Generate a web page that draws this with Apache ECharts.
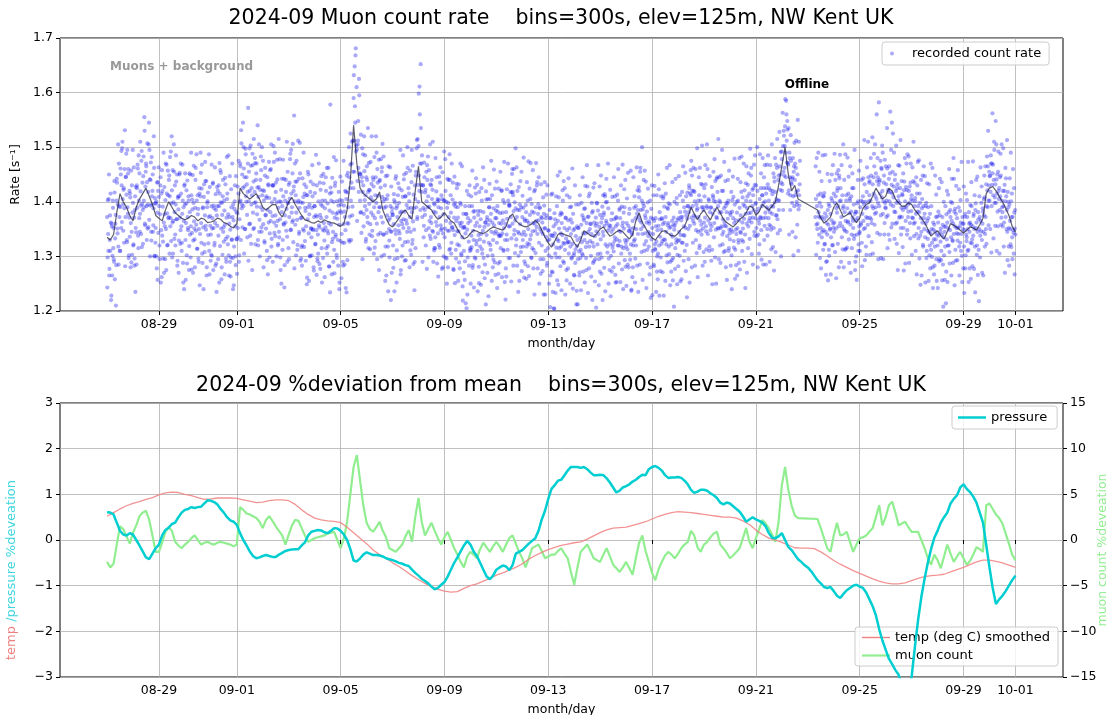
<!DOCTYPE html>
<html><head><meta charset="utf-8">
<script src="https://cdn.jsdelivr.net/npm/echarts@6/dist/echarts.min.js"></script>
<style>html,body{margin:0;padding:0;background:#fff}#c{width:1111px;height:715px}</style>
</head><body><div id="c"></div>
<script>
// ---------- data ----------
const seriesStartUTC = Date.UTC(2024, 7, 27, 0, 0);   // 2024-08-27 00:00
const scatterStepHours = 0.5;        // recorded count rate samples
const scatterBOffsetHours = 0.25;    // second sample set sits between the first
const lineStepHours = 3;             // smoothed rate, pressure, muon %dev
const tempStepHours = 6;             // temperature (smoothed)
const xTickDates = ['2024-08-29','2024-09-01','2024-09-05','2024-09-09','2024-09-13','2024-09-17','2024-09-21','2024-09-25','2024-09-29','2024-10-01'];
const rateTicks = [1.2, 1.3, 1.4, 1.5, 1.6, 1.7];
const pctTicksLeft = [-3, -2, -1, 0, 1, 2, 3];
const pctTicksRight = [-15, -10, -5, 0, 5, 10, 15];

// recorded count rate, milli-counts per second (one row per day, 30 min apart, from 00:00)
const rateScatterA_mHz = [
1372,1298,1341,1405,1265,1330,1310,1362,1228,1355,1301,1389,1352,1290,1417,1333,1376,1284,1442,1351,1395,1318,1470,1372,1390,1461,1352,1430,1498,1405,1347,1425,1388,1531,1372,1446,1413,1326,1390,1452,1297,1371,1336,1408,1361,1289,1430,1380,
1398,1322,1371,1296,1410,1352,1344,1430,1389,1461,1315,1402,1452,1378,1419,1341,1493,1396,1385,1447,1402,1555,1360,1428,1470,1392,1436,1351,1418,1505,1367,1441,1393,1472,1329,1410,1420,1345,1388,1462,1301,1397,1352,1401,1278,1380,1436,1343,
1409,1320,1377,1445,1348,1262,1338,1391,1296,1362,1427,1355,1403,1350,1468,1379,1321,1412,1372,1448,1410,1355,1492,1397,1421,1362,1305,1399,1455,1381,1340,1395,1437,1368,1283,1407,1386,1329,1450,1371,1348,1415,1310,1378,1402,1252,1365,1429,
1395,1330,1361,1421,1287,1372,1348,1402,1319,1381,1450,1355,1412,1343,1386,1270,1398,1364,1331,1389,1462,1358,1402,1314,1377,1296,1350,1415,1341,1490,1361,1424,1305,1388,1353,1409,1322,1375,1438,1349,1265,1390,1401,1339,1372,1310,1427,1356,
1340,1392,1301,1370,1435,1352,1388,1325,1361,1414,1287,1375,1356,1420,1338,1392,1471,1319,1399,1351,1280,1376,1410,1345,1327,1384,1358,1432,1296,1371,1405,1336,1377,1302,1360,1447,1349,1298,1390,1331,1372,1240,1366,1318,1401,1355,1284,1382,
1331,1379,1352,1415,1290,1368,1470,1402,1531,1388,1450,1425,1392,1461,1428,1350,1497,1410,1445,1376,1418,1572,1401,1359,1420,1338,1466,1395,1412,1488,1380,1437,1352,1418,1471,1399,1452,1391,1426,1330,1409,1505,1367,1422,1390,1458,1345,1412,
1421,1359,1402,1328,1448,1376,1351,1410,1293,1385,1432,1362,1407,1342,1381,1460,1318,1399,1374,1430,1502,1362,1405,1337,1418,1356,1399,1441,1320,1389,1345,1401,1368,1275,1422,1381,1392,1330,1410,1358,1243,1375,1362,1418,1387,1336,1455,1399,
1431,1372,1406,1488,1349,1415,1390,1452,1366,1420,1558,1401,1358,1412,1380,1437,1312,1399,1402,1341,1389,1452,1370,1296,1371,1320,1398,1409,1347,1432,1328,1383,1355,1412,1261,1368,1390,1342,1377,1301,1418,1352,1335,1389,1410,1348,1280,1372,
1392,1322,1375,1348,1430,1296,1340,1401,1357,1286,1376,1422,1370,1315,1402,1349,1451,1361,1329,1388,1353,1420,1372,1305,1397,1342,1361,1281,1415,1578,1358,1417,1326,1380,1345,1400,1312,1371,1435,1340,1378,1297,1369,1330,1393,1358,1252,1383,
1328,1380,1341,1402,1290,1359,1393,1325,1372,1348,1418,1234,1361,1417,1390,1330,1445,1373,1468,1402,1435,1510,1391,1455,1590,1512,1648,1545,1681,1503,1496,1438,1512,1462,1625,1452,1402,1451,1381,1437,1498,1418,1430,1378,1456,1392,1412,1332,
1385,1440,1362,1418,1471,1396,1421,1359,1408,1433,1337,1402,1375,1428,1390,1316,1412,1445,1398,1360,1460,1411,1381,1275,1438,1390,1426,1372,1455,1409,1362,1401,1340,1389,1430,1318,1391,1343,1375,1412,1236,1366,1329,1370,1392,1220,1345,1381,
1376,1320,1359,1403,1295,1348,1341,1388,1311,1372,1412,1357,1398,1342,1380,1267,1365,1421,1359,1409,1352,1441,1382,1326,1410,1366,1394,1345,1462,1388,1352,1401,1372,1311,1389,1436,1381,1330,1364,1413,1349,1290,1405,1448,1390,1513,1372,1431,
1502,1448,1611,1470,1652,1431,1418,1372,1430,1389,1356,1445,1376,1422,1348,1401,1467,1390,1410,1352,1391,1338,1432,1372,1361,1405,1422,1345,1382,1311,1395,1335,1380,1419,1356,1401,1342,1390,1321,1372,1435,1357,1388,1351,1405,1280,1377,1402,
1402,1351,1420,1365,1296,1389,1347,1398,1372,1312,1440,1361,1380,1325,1353,1404,1348,1275,1371,1339,1398,1312,1365,1425,1322,1371,1346,1289,1361,1398,1356,1305,1362,1335,1219,1378,1310,1353,1291,1342,1378,1205,1349,1298,1361,1327,1392,1310,
1365,1312,1338,1392,1279,1347,1330,1371,1298,1356,1415,1322,1362,1310,1383,1339,1251,1355,1318,1368,1341,1402,1305,1347,1381,1327,1354,1285,1362,1419,1339,1372,1301,1358,1325,1390,1366,1321,1378,1345,1412,1302,1330,1388,1357,1289,1370,1346,
1370,1325,1392,1341,1268,1361,1338,1379,1315,1360,1421,1342,1366,1312,1352,1398,1330,1221,1381,1340,1369,1312,1402,1355,1392,1355,1418,1372,1333,1451,1360,1412,1383,1340,1399,1366,1388,1331,1372,1420,1345,1301,1342,1385,1359,1317,1390,1273,
1372,1330,1389,1345,1291,1365,1339,1381,1318,1365,1402,1350,1361,1322,1376,1405,1339,1297,1382,1346,1361,1312,1419,1360,1347,1390,1365,1430,1341,1378,1366,1325,1388,1350,1268,1372,1320,1362,1341,1295,1378,1351,1352,1310,1336,1375,1288,1329,
1348,1302,1331,1370,1265,1339,1298,1338,1271,1322,1355,1204,1342,1305,1360,1316,1392,1331,1365,1328,1351,1298,1376,1342,1318,1361,1339,1402,1325,1288,1352,1312,1371,1333,1256,1348,1327,1366,1305,1352,1390,1318,1341,1296,1362,1323,1378,1302,
1306,1351,1288,1337,1212,1319,1330,1295,1352,1309,1271,1334,1312,1358,1326,1375,1302,1342,1366,1330,1388,1342,1297,1361,1325,1372,1345,1410,1318,1350,1359,1301,1341,1380,1325,1288,1318,1362,1337,1295,1371,1346,1360,1322,1384,1341,1295,1428,
1376,1331,1362,1298,1391,1345,1338,1380,1356,1410,1322,1365,1361,1318,1347,1388,1296,1352,1322,1356,1301,1345,1379,1316,1350,1309,1368,1335,1266,1355,1372,1331,1359,1402,1320,1347,1328,1370,1345,1305,1391,1356,1362,1315,1351,1390,1330,1281,
1318,1361,1330,1285,1356,1347,1346,1305,1351,1322,1239,1340,1365,1320,1352,1389,1331,1296,1392,1350,1378,1421,1341,1372,1408,1366,1455,1385,1362,1402,1341,1386,1355,1392,1322,1375,1370,1328,1362,1312,1399,1345,1318,1360,1342,1280,1371,1331,
1352,1310,1341,1285,1365,1322,1312,1355,1327,1272,1348,1305,1356,1320,1381,1336,1298,1349,1370,1328,1359,1410,1331,1362,1330,1372,1345,1302,1389,1357,1361,1318,1352,1395,1290,1340,1322,1365,1336,1297,1371,1349,1356,1315,1362,1331,1396,1303,
1328,1370,1345,1301,1381,1339,1366,1325,1372,1402,1339,1355,1338,1382,1352,1410,1321,1369,1392,1350,1381,1425,1356,1388,1412,1371,1448,1392,1365,1420,1360,1401,1372,1330,1395,1385,1388,1345,1372,1412,1320,1365,1402,1358,1390,1431,1351,1385,
1362,1410,1371,1432,1346,1392,1389,1341,1366,1402,1318,1381,1348,1390,1355,1312,1378,1408,1402,1361,1385,1438,1349,1372,1370,1418,1392,1351,1445,1380,1399,1352,1381,1420,1340,1368,1345,1388,1362,1310,1392,1355,1381,1337,1369,1402,1315,1349,
1331,1376,1349,1302,1382,1345,1370,1328,1361,1395,1312,1349,1341,1380,1352,1402,1325,1366,1389,1345,1375,1418,1330,1362,1351,1395,1369,1421,1340,1378,1402,1360,1388,1431,1355,1379,1415,1370,1401,1448,1362,1392,1371,1412,1385,1345,1431,1396,
1398,1352,1381,1420,1340,1366,1360,1405,1372,1425,1348,1392,1412,1370,1398,1445,1356,1401,1371,1415,1390,1350,1432,1386,1402,1358,1381,1421,1349,1392,1378,1420,1391,1352,1445,1399,1418,1375,1405,1462,1368,1402,1448,1402,1465,1422,1491,1435,
1478,1432,1502,1455,1521,1462,1538,1490,1585,1512,1548,1471,1468,1421,1490,1445,1412,1475,1432,1398,1445,1410,1455,1392,1440,1412,1462,1418,1395,1450,1421,1386,1412,1432,null,null,null,null,null,null,null,null,null,null,null,null,null,null,
null,null,null,null,null,null,null,null,null,null,null,null,null,null,1372,1405,1358,1392,1360,1412,1381,1340,1398,1371,1352,1391,1335,1372,1410,1348,1368,1322,1379,1345,1290,1361,1340,1385,1358,1312,1392,1349,1378,1335,1366,1402,1321,1360,
1415,1362,1398,1440,1351,1388,1380,1425,1392,1355,1448,1401,1361,1402,1372,1335,1412,1388,1392,1350,1381,1312,1365,1402,1345,1388,1362,1415,1331,1379,1402,1358,1382,1340,1425,1371,1352,1395,1338,1378,1290,1366,1381,1340,1370,1401,1322,1355,
1345,1390,1361,1402,1325,1378,1410,1365,1395,1432,1352,1388,1372,1418,1390,1358,1445,1401,1412,1371,1402,1448,1361,1392,1432,1388,1415,1465,1378,1410,1452,1405,1438,1480,1398,1431,1392,1440,1415,1375,1462,1408,1420,1378,1401,1448,1361,1398,
1388,1432,1402,1461,1375,1418,1442,1401,1452,1418,1495,1431,1415,1455,1392,1428,1382,1440,1381,1420,1398,1362,1432,1402,1410,1371,1398,1425,1352,1389,1372,1412,1385,1352,1421,1390,1401,1365,1389,1422,1348,1395,1382,1420,1398,1361,1435,1405,
1412,1371,1402,1438,1360,1392,1362,1401,1378,1341,1415,1382,1392,1352,1381,1415,1338,1370,1345,1388,1362,1321,1392,1370,1378,1335,1360,1398,1310,1365,1332,1370,1345,1302,1378,1342,1312,1350,1325,1280,1362,1331,1358,1318,1345,1372,1295,1340,
1320,1362,1338,1291,1375,1345,1351,1310,1340,1372,1285,1335,1302,1345,1318,1355,1272,1331,1362,1320,1351,1381,1308,1348,1372,1335,1365,1398,1328,1360,1341,1382,1355,1312,1378,1352,1370,1329,1352,1390,1318,1355,1325,1362,1341,1301,1372,1350,
1360,1318,1348,1378,1302,1340,1335,1372,1350,1312,1381,1345,1362,1325,1358,1392,1331,1355,1338,1378,1350,1318,1385,1352,1362,1320,1345,1381,1312,1350,1372,1338,1365,1398,1330,1360,1382,1345,1375,1408,1341,1372,1432,1392,1421,1465,1402,1430,
1402,1448,1418,1470,1392,1431,1452,1412,1440,1495,1408,1432,1398,1441,1415,1382,1455,1420,1425,1385,1410,1448,1371,1402,1381,1420,1392,1362,1431,1401,1372,1410,1385,1345,1418,1390,1352,1395,1365,1322,1401,1372,1335,1372,1348,1305,1380,1351,
1340
];

// recorded count rate, second set, milli-counts per second (30 min apart, from 00:15)
const rateScatterB_mHz = [
1243,1403,1310,1450,1277,1375,1415,1220,1360,1265,1402,1315,1295,1438,1258,1360,1210,1402,1435,1342,1505,1285,1392,1310,1310,1450,1493,1363,1510,1395,1422,1325,1460,1282,1445,1488,1330,1495,1378,1460,1302,1420,1415,1280,1457,1345,1303,1495,
1320,1463,1283,1385,1235,1427,1285,1425,1468,1338,1485,1370,1345,1510,1393,1475,1317,1435,1323,1483,1390,1530,1357,1455,1465,1330,1507,1395,1353,1545,1495,1300,1440,1345,1482,1395,1450,1357,1520,1300,1407,1325,1397,1300,1435,1257,1420,1463,
1392,1295,1430,1252,1415,1458,1420,1327,1490,1270,1377,1295,1470,1275,1415,1320,1457,1370,1440,1305,1482,1370,1328,1520,1298,1458,1365,1505,1332,1430,1320,1485,1368,1450,1292,1410,1270,1410,1453,1323,1470,1355,1325,1468,1288,1390,1240,1432,
1452,1257,1397,1302,1439,1352,1410,1275,1452,1340,1298,1490,1276,1404,1449,1329,1466,1351,1280,1440,1347,1487,1314,1412,1387,1290,1425,1247,1410,1453,1325,1468,1288,1390,1240,1432,1308,1473,1356,1438,1280,1398,1417,1324,1487,1267,1374,1292,
1303,1468,1351,1433,1275,1393,1320,1463,1283,1385,1235,1427,1392,1295,1430,1252,1415,1458,1453,1258,1398,1303,1440,1353,1402,1267,1444,1332,1290,1482,1415,1322,1485,1265,1372,1290,1263,1423,1330,1470,1297,1395,1247,1387,1430,1300,1447,1332,
1268,1428,1335,1475,1302,1400,1465,1330,1507,1395,1353,1545,1500,1305,1445,1350,1487,1400,1432,1335,1470,1292,1455,1498,1360,1503,1323,1425,1275,1467,1350,1515,1398,1480,1322,1440,1470,1377,1540,1320,1427,1345,1300,1440,1483,1353,1500,1385,
1475,1280,1420,1325,1462,1375,1407,1310,1445,1267,1430,1473,1298,1458,1365,1505,1332,1430,1290,1430,1473,1343,1490,1375,1435,1300,1477,1365,1323,1515,1335,1478,1298,1400,1250,1442,1312,1477,1360,1442,1284,1402,1440,1347,1510,1290,1397,1315,
1295,1435,1478,1348,1495,1380,1363,1506,1326,1428,1278,1470,1437,1302,1475,1367,1321,1512,1442,1345,1508,1292,1399,1317,1283,1443,1350,1490,1317,1415,1389,1292,1427,1249,1412,1455,1450,1255,1395,1300,1437,1350,1302,1467,1350,1432,1274,1392,
1416,1323,1486,1266,1373,1291,1305,1470,1353,1435,1277,1395,1447,1252,1392,1297,1434,1347,1262,1402,1445,1315,1462,1347,1319,1462,1282,1384,1234,1426,1402,1267,1444,1332,1290,1482,1269,1429,1336,1476,1303,1401,1380,1283,1418,1240,1403,1446,
1395,1260,1437,1325,1283,1475,1382,1285,1420,1242,1405,1448,1293,1453,1360,1500,1327,1425,1525,1330,1470,1375,1512,1425,1632,1455,1575,1668,1492,1610,1365,1505,1548,1418,1595,1450,1380,1523,1343,1445,1295,1487,1355,1520,1403,1485,1327,1445,
1465,1372,1535,1315,1422,1340,1313,1473,1380,1520,1347,1445,1440,1305,1482,1370,1328,1520,1490,1295,1435,1340,1477,1390,1440,1343,1478,1300,1463,1506,1340,1483,1303,1405,1255,1447,1265,1405,1448,1318,1465,1350,1298,1463,1346,1428,1270,1388,
1376,1279,1414,1236,1399,1442,1447,1252,1392,1297,1434,1347,1425,1332,1495,1275,1382,1300,1320,1485,1368,1450,1292,1410,1293,1453,1360,1500,1327,1425,1415,1280,1457,1345,1303,1495,1323,1466,1286,1388,1238,1430,1315,1455,1498,1368,1515,1400,
1598,1420,1560,1385,1535,1470,1485,1290,1430,1335,1472,1385,1417,1320,1455,1277,1440,1483,1298,1458,1365,1505,1332,1430,1440,1347,1510,1290,1397,1315,1315,1480,1363,1445,1287,1405,1263,1403,1446,1316,1463,1348,1412,1277,1454,1342,1300,1492,
1335,1478,1298,1400,1250,1442,1280,1440,1347,1487,1314,1412,1305,1470,1353,1435,1277,1395,1446,1251,1391,1296,1433,1346,1390,1255,1432,1320,1278,1470,1395,1302,1465,1245,1352,1270,1354,1257,1392,1214,1377,1420,1230,1370,1413,1283,1430,1315,
1250,1410,1317,1457,1284,1382,1243,1383,1426,1296,1443,1328,1431,1236,1376,1281,1418,1331,1383,1248,1425,1313,1271,1463,1297,1440,1260,1362,1212,1404,1367,1270,1405,1227,1390,1433,1405,1312,1475,1255,1362,1280,1294,1459,1342,1424,1266,1384,
1437,1242,1382,1287,1424,1337,1290,1455,1338,1420,1262,1380,1403,1310,1473,1253,1360,1278,1263,1423,1330,1470,1297,1395,1394,1297,1432,1254,1417,1460,1418,1283,1460,1348,1306,1498,1320,1463,1283,1385,1235,1427,1255,1395,1438,1308,1455,1340,
1411,1318,1481,1261,1368,1286,1394,1259,1436,1324,1282,1474,1264,1424,1331,1471,1298,1396,1315,1458,1278,1380,1230,1422,1306,1471,1354,1436,1278,1396,1445,1250,1390,1295,1432,1345,1370,1273,1408,1230,1393,1436,1230,1370,1413,1283,1430,1315,
1347,1250,1385,1207,1370,1413,1272,1415,1235,1337,1205,1379,1368,1233,1410,1298,1256,1448,1248,1408,1315,1455,1282,1380,1238,1378,1421,1291,1438,1323,1425,1230,1370,1275,1412,1325,1278,1443,1326,1408,1250,1368,1391,1298,1461,1241,1348,1266,
1265,1430,1313,1395,1237,1355,1212,1352,1395,1265,1412,1297,1238,1398,1305,1445,1272,1370,1387,1252,1429,1317,1275,1467,1428,1233,1373,1278,1415,1328,1360,1263,1398,1220,1383,1426,1291,1434,1254,1356,1206,1398,1397,1304,1467,1247,1354,1272,
1305,1448,1268,1370,1220,1412,1376,1279,1414,1236,1399,1442,1400,1307,1470,1250,1357,1275,1422,1227,1367,1272,1409,1322,1280,1445,1328,1410,1252,1370,1253,1413,1320,1460,1287,1385,1388,1253,1430,1318,1276,1468,1240,1380,1423,1293,1440,1325,
1246,1406,1313,1453,1280,1378,1387,1294,1457,1237,1344,1262,1280,1445,1328,1410,1252,1370,1320,1463,1283,1385,1235,1427,1420,1285,1462,1350,1308,1500,1257,1397,1440,1310,1457,1342,1437,1242,1382,1287,1424,1337,1364,1267,1402,1224,1387,1430,
1229,1369,1412,1282,1429,1314,1370,1235,1412,1300,1258,1450,1423,1228,1368,1273,1410,1323,1368,1271,1406,1228,1391,1434,1255,1415,1322,1462,1289,1387,1397,1304,1467,1247,1354,1272,1293,1436,1256,1358,1208,1400,1277,1442,1325,1407,1249,1367,
1282,1447,1330,1412,1254,1372,1258,1418,1325,1465,1292,1390,1310,1453,1273,1375,1225,1417,1392,1295,1430,1252,1415,1458,1475,1280,1420,1325,1462,1375,1418,1283,1460,1348,1306,1498,1262,1402,1445,1315,1462,1347,1433,1340,1503,1283,1390,1308,
1425,1290,1467,1355,1313,1505,1460,1265,1405,1310,1447,1360,1389,1292,1427,1249,1412,1455,1335,1478,1298,1400,1250,1442,1445,1352,1515,1295,1402,1320,1288,1448,1355,1495,1322,1420,1308,1473,1356,1438,1280,1398,1257,1397,1440,1310,1457,1342,
1380,1283,1418,1240,1403,1446,1409,1316,1479,1259,1366,1284,1400,1265,1442,1330,1288,1480,1276,1436,1343,1483,1310,1408,1327,1470,1290,1392,1242,1434,1465,1270,1410,1315,1452,1365,1332,1497,1380,1462,1304,1422,1285,1425,1468,1338,1485,1370,
1430,1337,1500,1280,1387,1305,1322,1487,1370,1452,1294,1412,1480,1285,1425,1330,1467,1380,1285,1425,1468,1338,1485,1370,1425,1290,1467,1355,1313,1505,1414,1317,1452,1274,1437,1480,1308,1468,1375,1515,1342,1440,1385,1528,1348,1450,1300,1492,
1420,1563,1385,1530,1448,1502,1588,1445,1560,1472,1532,1415,1535,1340,1480,1385,1522,1435,1442,1345,1480,1302,1465,1508,1470,1335,1512,1400,1358,1550,1310,1510,1393,1475,null,null,null,null,null,null,null,null,null,null,null,null,null,null,
null,null,null,null,null,null,null,null,null,null,null,null,null,null,1465,1303,1480,1350,1325,1490,1373,1455,1297,1415,1278,1438,1345,1485,1312,1410,1416,1323,1486,1266,1373,1291,1451,1256,1396,1301,1438,1351,1267,1407,1450,1320,1467,1352,
1345,1488,1308,1410,1260,1452,1420,1323,1458,1280,1443,1486,1425,1290,1467,1355,1313,1505,1280,1440,1347,1487,1314,1412,1316,1481,1364,1446,1288,1406,1465,1270,1410,1315,1452,1365,1425,1332,1495,1275,1382,1300,1257,1397,1440,1310,1457,1342,
1310,1475,1358,1440,1282,1400,1443,1350,1513,1293,1400,1318,1303,1463,1370,1510,1337,1435,1438,1303,1480,1368,1326,1518,1305,1445,1488,1358,1505,1390,1380,1560,1343,1445,1295,1582,1437,1340,1475,1297,1460,1503,1490,1295,1435,1340,1477,1390,
1465,1372,1535,1315,1422,1340,1465,1330,1565,1395,1353,1545,1360,1525,1408,1490,1332,1450,1360,1503,1323,1425,1275,1467,1306,1466,1373,1513,1340,1438,1414,1317,1452,1274,1437,1480,1287,1427,1470,1340,1487,1372,1483,1288,1428,1333,1470,1383,
1303,1463,1370,1510,1337,1435,1407,1310,1445,1267,1430,1473,1333,1476,1296,1398,1248,1440,1265,1405,1448,1318,1465,1350,1447,1252,1392,1297,1434,1347,1390,1255,1432,1320,1278,1470,1392,1299,1462,1242,1349,1267,1283,1448,1331,1413,1255,1373,
1242,1382,1425,1295,1442,1327,1293,1436,1256,1358,1208,1400,1354,1257,1392,1214,1377,1420,1253,1413,1320,1460,1287,1385,1400,1265,1442,1330,1288,1480,1442,1247,1387,1292,1429,1342,1293,1458,1341,1423,1265,1383,1403,1310,1473,1253,1360,1278,
1428,1233,1373,1278,1415,1328,1403,1310,1473,1253,1360,1278,1394,1259,1436,1324,1282,1474,1374,1277,1412,1234,1397,1440,1303,1446,1266,1368,1218,1410,1298,1463,1346,1428,1270,1388,1265,1405,1448,1318,1465,1350,1323,1483,1390,1530,1357,1455,
1447,1350,1485,1307,1470,1562,1468,1333,1510,1398,1356,1548,1505,1310,1450,1355,1492,1405,1305,1445,1488,1358,1505,1390,1355,1498,1318,1420,1270,1462,1443,1350,1513,1293,1400,1318,1283,1443,1350,1490,1317,1415,1295,1460,1343,1425,1267,1385
];

// smoothed count rate, s^-1 (3 h apart; null = offline)
const rateSmoothed = [
1.335,1.33,1.34,1.38,1.415,1.40,1.39,1.375,
1.365,1.39,1.405,1.415,1.425,1.41,1.395,1.375,
1.37,1.365,1.385,1.40,1.39,1.38,1.375,1.37,
1.367,1.37,1.375,1.372,1.365,1.37,1.368,1.362,
1.363,1.365,1.37,1.368,1.362,1.36,1.355,1.352,
1.36,1.425,1.415,1.41,1.405,1.41,1.415,1.405,
1.39,1.385,1.39,1.395,1.395,1.38,1.372,1.385,
1.40,1.408,1.395,1.385,1.375,1.367,1.365,1.362,
1.361,1.365,1.362,1.367,1.364,1.362,1.361,1.358,
1.355,1.36,1.385,1.44,1.54,1.47,1.425,1.415,
1.41,1.405,1.40,1.405,1.418,1.385,1.37,1.358,
1.354,1.362,1.37,1.38,1.385,1.375,1.368,1.42,
1.465,1.40,1.395,1.39,1.385,1.375,1.368,1.372,
1.38,1.372,1.365,1.361,1.35,1.34,1.332,1.335,
1.342,1.348,1.346,1.343,1.342,1.345,1.35,1.354,
1.352,1.35,1.348,1.355,1.372,1.378,1.365,1.36,
1.356,1.354,1.356,1.36,1.366,1.36,1.348,1.335,
1.325,1.317,1.328,1.34,1.343,1.34,1.338,1.336,
1.325,1.317,1.33,1.347,1.343,1.338,1.336,1.342,
1.35,1.354,1.345,1.337,1.34,1.345,1.348,1.345,
1.338,1.332,1.34,1.365,1.38,1.362,1.352,1.342,
1.334,1.33,1.338,1.346,1.347,1.342,1.338,1.337,
1.342,1.35,1.355,1.37,1.39,1.378,1.367,1.378,
1.385,1.375,1.367,1.38,1.39,1.38,1.368,1.362,
1.358,1.354,1.36,1.368,1.372,1.38,1.392,1.39,
1.375,1.382,1.395,1.39,1.385,1.392,1.40,1.43,
1.465,1.50,1.45,1.42,1.43,1.405,null,null,
null,null,null,1.385,1.37,1.361,1.366,1.372,
1.39,1.398,1.385,1.372,1.376,1.38,1.37,1.362,
1.37,1.388,1.395,1.398,1.41,1.425,1.415,1.405,
1.41,1.425,1.42,1.405,1.398,1.392,1.392,1.398,
1.395,1.385,1.378,1.37,1.362,1.35,1.337,1.343,
1.347,1.338,1.332,1.345,1.36,1.357,1.353,1.348,
1.343,1.348,1.354,1.352,1.348,1.358,1.37,1.415,
1.425,1.428,1.42,1.41,1.40,1.388,1.375,1.355,
1.345
];

// pressure % deviation from mean (3 h apart)
const pressureDev = [
0.61,0.60,0.56,0.38,0.2,0.12,0.1,0.15,
0.12,0.0,-0.12,-0.25,-0.38,-0.42,-0.3,-0.18,
-0.1,0.1,0.22,0.27,0.35,0.38,0.5,0.6,
0.66,0.68,0.72,0.7,0.72,0.73,0.8,0.87,
0.86,0.83,0.78,0.68,0.6,0.5,0.43,0.4,
0.33,0.15,0.0,-0.12,-0.25,-0.35,-0.4,-0.38,
-0.35,-0.33,-0.35,-0.37,-0.37,-0.32,-0.28,-0.24,
-0.22,-0.21,-0.2,-0.2,-0.12,-0.05,0.1,0.18,
0.2,0.22,0.21,0.17,0.15,0.2,0.26,0.25,
0.2,0.12,0.0,-0.2,-0.45,-0.47,-0.4,-0.32,
-0.27,-0.3,-0.33,-0.33,-0.34,-0.36,-0.4,-0.42,
-0.44,-0.47,-0.5,-0.52,-0.55,-0.57,-0.65,-0.72,
-0.78,-0.85,-0.9,-0.95,-1.02,-1.08,-1.05,-0.98,
-0.92,-0.8,-0.65,-0.5,-0.38,-0.25,-0.12,-0.02,
-0.1,-0.25,-0.35,-0.5,-0.65,-0.8,-0.86,-0.78,
-0.65,-0.6,-0.56,-0.58,-0.66,-0.55,-0.3,-0.26,
-0.22,-0.15,-0.08,-0.02,0.04,0.2,0.45,0.64,
0.9,1.12,1.2,1.3,1.32,1.42,1.52,1.6,
1.6,1.6,1.58,1.6,1.55,1.48,1.42,1.42,
1.43,1.42,1.35,1.26,1.15,1.04,1.08,1.15,
1.18,1.22,1.28,1.32,1.38,1.43,1.42,1.55,
1.6,1.62,1.58,1.52,1.42,1.36,1.37,1.37,
1.38,1.36,1.3,1.22,1.1,1.03,1.06,1.1,
1.1,1.08,1.02,0.98,0.92,0.82,0.78,0.82,
0.8,0.74,0.68,0.62,0.52,0.4,0.45,0.5,
0.45,0.42,0.38,0.3,0.15,0.05,0.04,0.08,
0.15,0.0,-0.15,-0.22,-0.32,-0.42,-0.48,-0.55,
-0.6,-0.68,-0.78,-0.88,-0.95,-1.03,-1.05,-1.03,
-1.12,-1.22,-1.27,-1.18,-1.1,-1.05,-1.0,-0.98,
-1.02,-1.05,-1.15,-1.3,-1.45,-1.65,-1.95,-2.2,
-2.4,-2.6,-2.72,-2.85,-2.95,-3.2,-3.45,-3.3,
-3.0,-2.35,-1.75,-1.25,-0.85,-0.5,-0.2,0.05,
0.2,0.38,0.5,0.6,0.8,0.9,0.98,1.15,
1.22,1.12,1.05,0.95,0.82,0.6,0.38,-0.1,
-0.6,-1.05,-1.4,-1.3,-1.22,-1.12,-1.0,-0.88,
-0.78
];

// muon count % deviation from mean (3 h apart; null = offline)
const muonDev = [
-2.4,-3.0,-2.6,-0.5,1.5,1.2,0.4,-0.4,
0.8,1.6,2.6,3.0,3.2,2.2,0.5,-1.3,
-1.3,-0.3,0.9,1.4,1.0,-0.2,-0.6,-0.9,
-0.5,-0.2,0.2,0.5,0.0,-0.5,-0.3,-0.2,
-0.4,-0.5,-0.3,-0.2,-0.3,-0.4,-0.5,-0.7,
-0.5,3.6,3.3,2.9,2.8,2.6,2.4,2.0,
1.3,2.2,2.6,2.1,1.5,1.0,0.5,-0.5,
0.6,1.6,2.2,2.1,1.3,0.5,-0.2,0.0,
0.2,0.3,0.4,0.5,0.7,0.8,0.9,0.0,
-0.9,0.2,2.0,5.0,8.0,9.3,6.5,3.8,
1.9,1.2,0.9,1.4,2.0,1.0,0.3,-0.9,
-1.1,-1.3,-0.9,-0.5,0.4,1.1,-0.2,2.5,
4.6,2.0,0.5,1.2,1.9,1.0,0.2,-0.5,
0.3,0.9,0.0,-0.9,-1.6,-2.4,-3.0,-1.8,
-1.3,-1.6,-2.0,-1.0,-0.3,-0.8,-1.3,-0.7,
-0.2,-0.7,-1.3,-0.5,0.2,0.5,-0.4,-1.3,
-2.0,-3.0,-2.0,-0.9,-0.7,-0.5,-1.2,-2.0,
-1.8,-1.6,-1.6,-1.2,-0.9,-1.5,-2.0,-3.5,
-4.9,-3.0,-1.3,-0.9,-0.5,-1.2,-2.0,-2.2,
-2.4,-1.6,-0.9,-1.8,-2.7,-3.1,-3.5,-3.0,
-2.4,-3.1,-3.8,-2.0,-0.3,0.5,-1.2,-2.4,
-3.6,-4.4,-3.2,-2.4,-1.7,-1.3,-1.6,-2.0,
-1.5,-0.9,-0.5,-0.2,1.0,0.5,-0.8,-1.3,
-0.5,-0.2,0.3,0.7,0.9,-0.5,-0.9,-1.4,
-2.0,-1.7,-1.3,-0.9,0.2,1.3,-0.2,-0.9,
0.2,1.2,2.2,1.8,1.3,0.6,-0.2,2.0,
6.0,8.0,5.5,3.8,2.7,2.4,null,null,
null,null,null,2.3,1.3,0.2,-0.9,-1.3,
0.5,1.9,0.5,0.6,0.9,-0.2,-1.3,-0.5,
0.2,0.3,0.5,0.9,1.3,2.5,3.8,1.6,
2.5,3.8,4.2,3.0,1.6,1.8,2.0,1.4,
0.9,0.9,0.9,0.0,-0.9,-2.0,-2.7,-1.6,
-2.2,-3.1,-1.8,-0.5,-1.5,-2.4,-1.8,-1.3,
-2.0,-2.7,-2.3,-1.6,-0.8,-1.0,-1.3,3.8,
4.0,3.4,2.8,2.4,1.8,0.7,-0.4,-1.6,
-2.2
];

// temperature deviation, deg C, smoothed (6 h apart)
const tempDev = [
2.6,3.0,3.4,3.75, 4.0,4.2,4.45,4.65, 4.95,5.15,5.25,5.2, 5.0,4.85,4.65,4.45,
4.5,4.6,4.6,4.6, 4.55,4.4,4.25,4.1, 4.15,4.3,4.4,4.4, 4.3,3.9,3.3,2.8,
2.4,2.2,2.1,2.05, 1.9,1.4,0.8,0.2, -0.4,-1.1,-1.6,-2.0, -2.5,-2.9,-3.4,-3.9,
-4.35,-4.75,-5.1,-5.4, -5.6,-5.7,-5.65,-5.3, -5.0,-4.8,-4.5,-4.2, -3.85,-3.6,-3.3,-3.0,
-2.6,-2.1,-1.7,-1.35, -1.05,-0.8,-0.6,-0.45, -0.3,-0.2,0.1,0.45, 0.8,1.1,1.3,1.35,
1.4,1.6,1.8,2.0, 2.3,2.6,2.8,3.0, 3.1,3.05,3.0,2.9, 2.8,2.7,2.6,2.5,
2.5,2.4,2.1,1.7, 1.1,0.6,0.2,0.0, -0.25,-0.55,-0.85,-0.9, -0.9,-0.95,-1.3,-1.75,
-2.25,-2.65,-3.0,-3.35, -3.65,-3.95,-4.25,-4.5, -4.7,-4.8,-4.8,-4.7, -4.45,-4.2,-4.0,-3.9,
-3.85,-3.75,-3.5,-3.25, -3.0,-2.7,-2.4,-2.2, -2.2,-2.35,-2.5,-2.75,
-3.0
];

// ---------- chart ----------
const FONT = 'DejaVu Sans';
const HOUR = 3600e3;
const xMin = Date.UTC(2024, 7, 25, 4, 30);
const xMax = Date.UTC(2024, 9, 2, 20, 0);
const tickValues = xTickDates.map(s => Date.parse(s + 'T00:00:00Z'));
const pad2 = n => String(n).padStart(2, '0');
const fmtDay = v => { const d = new Date(v); return pad2(d.getUTCMonth() + 1) + '-' + pad2(d.getUTCDate()); };
const fmtMinus = v => (v < 0 ? '\u2212' + Math.abs(v) : String(v));

function pairs(arr, stepH, scale, offsetH) {
  return arr.map((v, i) => [seriesStartUTC + ((offsetH || 0) + i * stepH) * HOUR, v == null ? null : v * (scale || 1)]);
}
const scatterPts = pairs(rateScatterA_mHz, scatterStepHours, 0.001)
  .concat(pairs(rateScatterB_mHz, scatterStepHours, 0.001, scatterBOffsetHours))
  .filter(p => p[1] != null);

const tickLabelStyle = { fontFamily: FONT, fontSize: 12.5, color: '#000' };
const gridLine = { show: true, lineStyle: { color: '#b0b0b0', width: 0.8 } };

function xAxisCfg(gi) {
  return {
    type: 'value', gridIndex: gi, min: xMin, max: xMax,
    name: 'month/day', nameLocation: 'middle', nameGap: 26,
    nameTextStyle: { fontFamily: FONT, fontSize: 12.5, color: '#000' },
    axisLine: { show: false },
    axisTick: { show: true, customValues: tickValues, length: 4, lineStyle: { color: '#000' } },
    axisLabel: Object.assign({ customValues: tickValues, formatter: fmtDay, margin: 7 }, tickLabelStyle),
    splitLine: gridLine
  };
}
function yAxisCfg(gi, ticks, extra) {
  return Object.assign({
    type: 'value', gridIndex: gi, min: ticks[0], max: ticks[ticks.length - 1],
    interval: ticks[1] - ticks[0],
    axisLine: { show: false },
    axisTick: { show: true, length: 4, lineStyle: { color: '#000' } },
    axisLabel: Object.assign({ margin: 7 }, tickLabelStyle),
    splitLine: gridLine
  }, extra);
}

const legendBox = { borderColor: '#cccccc', borderWidth: 1, borderRadius: 3, backgroundColor: 'rgba(255,255,255,0.8)',
  textStyle: { fontFamily: FONT, fontSize: 13, color: '#000' } };
const lineIcon = h => 'path://M0,0L28,0L28,' + h + 'L0,' + h + 'Z';

const option = {
  animation: false,
  backgroundColor: '#fff',
  textStyle: { fontFamily: FONT },
  grid: [
    { left: 60, right: 48, top: 38, height: 273, outerBoundsMode: 'none', containLabel: false,
      show: true, borderColor: '#000', borderWidth: 1, backgroundColor: 'transparent' },
    { left: 60, right: 48, top: 403, height: 274, outerBoundsMode: 'none', containLabel: false,
      show: true, borderColor: '#000', borderWidth: 1, backgroundColor: 'transparent' }
  ],
  xAxis: [xAxisCfg(0), xAxisCfg(1)],
  yAxis: [
    yAxisCfg(0, rateTicks, {
      name: 'Rate [s\u207B\u00B9]', nameLocation: 'middle', nameGap: 36, nameRotate: 90,
      nameTextStyle: { fontFamily: FONT, fontSize: 12.5, color: '#000' },
      axisLabel: Object.assign({ margin: 7, formatter: v => v.toFixed(1) }, tickLabelStyle)
    }),
    yAxisCfg(1, pctTicksLeft, {
      name: '{a|temp} {b|/pressure %deveation}', nameLocation: 'middle', nameGap: 42, nameRotate: 90,
      nameTextStyle: { fontFamily: FONT, fontSize: 13, padding: [0, 60, 0, 0],
        rich: { a: { color: '#f08080', fontFamily: FONT, fontSize: 13 }, b: { color: '#3fd6df', fontFamily: FONT, fontSize: 13 } } },
      axisLabel: Object.assign({ margin: 7, formatter: fmtMinus }, tickLabelStyle)
    }),
    yAxisCfg(1, pctTicksRight, {
      position: 'right',
      name: 'muon count %deveation', nameLocation: 'middle', nameGap: 33, nameRotate: 90, nameMoveOverlap: false,
      nameTextStyle: { fontFamily: FONT, fontSize: 12.5, color: '#90ee90', padding: [0, 20, 0, 0] },
      splitLine: { show: false },
      axisLabel: Object.assign({ margin: 7, formatter: fmtMinus }, tickLabelStyle)
    })
  ],
  legend: [
    Object.assign({ data: ['recorded count rate'], left: 882, top: 42, padding: [5, 8, 5, 8],
      icon: 'circle', itemWidth: 30, itemHeight: 4 }, legendBox),
    Object.assign({ data: [{ name: 'pressure', icon: lineIcon(2.5) }], left: 952, top: 406, padding: [5, 10, 5, 6],
      itemWidth: 28, itemHeight: 14 }, legendBox),
    Object.assign({ data: [{ name: 'temp (deg C) smoothed', icon: lineIcon(1.4) }, { name: 'muon count', icon: lineIcon(2.2) }],
      orient: 'vertical', left: 855, top: 627, padding: [4, 8, 4, 7], itemWidth: 28, itemHeight: 14, itemGap: 5 }, legendBox)
  ],
  graphic: [
    { type: 'text', x: 561, y: 19, style: { text: '2024-09 Muon count rate    bins=300s, elev=125m, NW Kent UK',
      font: '20.5px "DejaVu Sans"', fill: '#000', align: 'center', verticalAlign: 'middle', textAlign: 'center', textVerticalAlign: 'middle' } },
    { type: 'text', x: 561, y: 386, style: { text: '2024-09 %deviation from mean    bins=300s, elev=125m, NW Kent UK',
      font: '20.5px "DejaVu Sans"', fill: '#000', align: 'center', verticalAlign: 'middle', textAlign: 'center', textVerticalAlign: 'middle' } },
    { type: 'text', x: 110, y: 67, style: { text: 'Muons + background',
      font: 'bold 12px "DejaVu Sans"', fill: '#999999', align: 'left', verticalAlign: 'middle', textAlign: 'left', textVerticalAlign: 'middle' } },
    { type: 'text', x: 807, y: 85, style: { text: 'Offline',
      font: 'bold 12px "DejaVu Sans"', fill: '#000', align: 'center', verticalAlign: 'middle', textAlign: 'center', textVerticalAlign: 'middle' } }
  ],
  series: [
    { name: 'recorded count rate', type: 'scatter', xAxisIndex: 0, yAxisIndex: 0, data: scatterPts,
      symbolSize: 4.2, itemStyle: { color: 'rgba(20,20,235,0.45)' }, z: 2 },
    { name: 'smoothed rate', type: 'line', xAxisIndex: 0, yAxisIndex: 0, data: pairs(rateSmoothed, lineStepHours),
      symbol: 'none', connectNulls: true, lineStyle: { color: 'rgba(25,25,50,0.7)', width: 1.2 }, z: 3 },
    { name: 'muon count', type: 'line', xAxisIndex: 1, yAxisIndex: 2, data: pairs(muonDev, lineStepHours),
      symbol: 'none', connectNulls: true, color: '#90ee90', lineStyle: { color: '#90ee90', width: 2.2 }, z: 2 },
    { name: 'temp (deg C) smoothed', type: 'line', xAxisIndex: 1, yAxisIndex: 2, data: pairs(tempDev, tempStepHours),
      symbol: 'none', color: '#f08080', lineStyle: { color: '#f08080', width: 1.3, opacity: 0.85 }, z: 3 },
    { name: 'pressure', type: 'line', xAxisIndex: 1, yAxisIndex: 1, data: pairs(pressureDev, lineStepHours),
      symbol: 'none', color: '#00ced1', lineStyle: { color: '#00ced1', width: 2.5 }, z: 4, clip: true }
  ]
};

const chart = echarts.init(document.getElementById('c'), null, { renderer: 'canvas', width: 1111, height: 715 });
chart.setOption(option);
</script>
</body></html>
